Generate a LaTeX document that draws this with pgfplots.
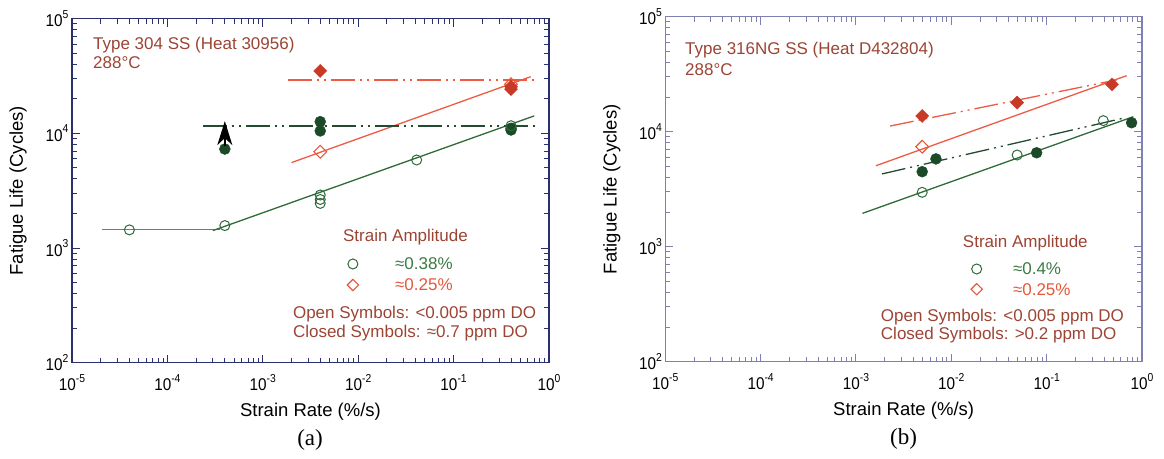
\documentclass[border=0pt]{standalone}
\usepackage{fontspec}
\setmainfont{Liberation Sans}
\newfontfamily\seriffont{Liberation Serif}
\usepackage{graphicx}
\usepackage{pgfplots}
\pgfplotsset{compat=1.18}
\usetikzlibrary{arrows.meta}

\definecolor{axa}{HTML}{2A2F6E}
\definecolor{axb}{HTML}{7E80B4}
\definecolor{txt}{HTML}{9C4434}
\definecolor{gline}{HTML}{2F6A3A}
\definecolor{gfill}{HTML}{1B4A28}
\definecolor{gdash}{HTML}{244A30}
\definecolor{rline}{HTML}{EE5A44}
\definecolor{rfill}{HTML}{C93A26}
\definecolor{ropen}{HTML}{E5583A}
\definecolor{tealc}{HTML}{4F8A7E}
\definecolor{gtxt}{HTML}{3C7A44}

\newcommand{\tl}[1]{\scalebox{0.9}[1]{10\raisebox{0.5em}{\fontsize{11.5bp}{12bp}\selectfont #1}}}
\newcommand{\ann}{\fontsize{17bp}{20bp}\selectfont}

\pgfplotsset{
  myddash/.style={line width=1.3bp, dash pattern=on 24bp off 5bp on 2bp off 5bp on 2bp off 5bp},
  myoc/.style={only marks, mark=o, mark size=5bp, mark options={draw=gline, line width=1bp}},
  myfc/.style={only marks, mark=*, mark size=5.5bp, mark options={draw=gfill, fill=gfill}},
  myod/.style={only marks, mark=square, mark size=4.5bp, mark options={draw=ropen, line width=1.1bp, rotate=45}},
  myfd/.style={only marks, mark=square*, mark size=4.6bp, mark options={draw=rfill, fill=rfill, rotate=45}},
}

\begin{document}
\begin{tikzpicture}
\useasboundingbox (0,0) rectangle (1164bp,459bp);

% ---------------- Panel (a)
\begin{axis}[xmode=log, ymode=log, clip mode=individual,
    scale only axis, width=477bp, height=344bp,
    at={(72bp,96.3bp)}, anchor=south west,
    xmin=1e-5, xmax=1, ymin=100, ymax=1e5,
    xtick={1e-5,1e-4,1e-3,1e-2,1e-1,1},
    ytick={1e2,1e3,1e4,1e5},
    xticklabels={\tl{-5},\tl{-4},\tl{-3},\tl{-2},\tl{-1},\tl{0}},
    yticklabels={\tl{2},\tl{3},\tl{4},\tl{5}},
    ticklabel style={font=\fontsize{17bp}{20bp}\selectfont},
    xticklabel style={yshift=-8bp},
    major tick length=8bp, minor tick length=5bp,
    tick align=inside,
    xlabel={Strain Rate (\%/s)},
    ylabel={Fatigue Life (Cycles)},
    xlabel style={at={(axis description cs:0.5,-0.143)}, anchor=center, font=\fontsize{18.5bp}{20bp}\selectfont},
    ylabel style={at={(axis description cs:-0.113,0.5)}, anchor=center, font=\fontsize{18.5bp}{20bp}\selectfont},
    axis line style={axa, line width=1.6bp}, every tick/.style={axa, line width=1bp}]
\addplot[tealc, line width=1.2bp] coordinates {(2.05e-5,1450) (3.6e-4,1450)};
\addplot[gline, line width=1.3bp] coordinates {(3e-4,1420) (0.7,14200)};
\addplot[rline, line width=1.3bp] coordinates {(2.0e-3,5560) (0.643,31200)};
\addplot[rline, myddash] coordinates {(1.85e-3,29200) (0.74,29200)};
\addplot[gdash, myddash] coordinates {(2.38e-4,11590) (0.71,11590)};
\addplot[myfc] coordinates {(4e-4,7300) (4e-3,12650) (4e-3,10500) (0.40,11070) (0.40,10700)};
\addplot[black, line width=1.8bp, -{Stealth[length=24bp,width=15bp,inset=7bp]}] coordinates {(4e-4,7700) (4e-4,12800)};
\addplot[myoc] coordinates {(4e-5,1440) (4e-4,1570) (4e-3,2900) (4e-3,2650) (4e-3,2450) (0.041,5860) (0.40,11660)};
\addplot[myod] coordinates {(4e-3,6920) (0.40,26800)};
\addplot[myfd] coordinates {(4e-3,35000) (0.40,25500) (0.40,24300)};
% legend symbols
\addplot[myoc] coordinates {(8.8e-3,726)};
\addplot[myod, mark size=4bp] coordinates {(8.8e-3,476)};
\node[anchor=west, inner sep=0, txt] at (axis description cs:0.044,0.9235) {\ann Type 304 SS (Heat 30956)};
\node[anchor=west, inner sep=0, txt] at (axis description cs:0.044,0.871) {\ann 288°C};
\node[anchor=west, inner sep=0, txt] at (axis description cs:0.568,0.365) {\ann Strain Amplitude};
\node[anchor=west, inner sep=0, gtxt] at (axis description cs:0.677,0.287) {\ann ≈0.38\%};
\node[anchor=west, inner sep=0, ropen] at (axis description cs:0.677,0.226) {\ann ≈0.25\%};
\node[anchor=west, inner sep=0, txt] at (axis description cs:0.463,0.1416) {\ann Open Symbols: <0.005 ppm DO};
\node[anchor=west, inner sep=0, txt] at (axis description cs:0.463,0.0863) {\ann Closed Symbols: ≈0.7 ppm DO};
\node[anchor=center] at (axis description cs:0.499,-0.225) {\seriffont\fontsize{23bp}{26bp}\selectfont (a)};
\end{axis}

% ---------------- Panel (b)
\begin{axis}[xmode=log, ymode=log, clip mode=individual,
    scale only axis, width=476.7bp, height=345bp,
    at={(665.3bp,97.3bp)}, anchor=south west,
    xmin=1e-5, xmax=1, ymin=100, ymax=1e5,
    xtick={1e-5,1e-4,1e-3,1e-2,1e-1,1},
    ytick={1e2,1e3,1e4,1e5},
    xticklabels={\tl{-5},\tl{-4},\tl{-3},\tl{-2},\tl{-1},\tl{0}},
    yticklabels={\tl{2},\tl{3},\tl{4},\tl{5}},
    ticklabel style={font=\fontsize{17bp}{20bp}\selectfont},
    xticklabel style={yshift=-8bp},
    major tick length=8bp, minor tick length=5bp,
    tick align=inside,
    xlabel={Strain Rate (\%/s)},
    ylabel={Fatigue Life (Cycles)},
    xlabel style={at={(axis description cs:0.5,-0.143)}, anchor=center, font=\fontsize{18.5bp}{20bp}\selectfont},
    ylabel style={at={(axis description cs:-0.112,0.5)}, anchor=center, font=\fontsize{18.5bp}{20bp}\selectfont},
    axis line style={axb, line width=1.3bp}, every tick/.style={axb, line width=1bp}]
\addplot[gline, line width=1.3bp] coordinates {(1.17e-3,1950) (0.81,13500)};
\addplot[rline, line width=1.3bp] coordinates {(1.62e-3,5060) (0.69,30700)};
\addplot[gdash, myddash] coordinates {(1.87e-3,4290) (0.635,13100)};
\addplot[rline, myddash] coordinates {(2.28e-3,11200) (0.542,28200)};
\addplot[myoc] coordinates {(4.95e-3,2970) (0.049,6270) (0.393,12480)};
\addplot[myfc] coordinates {(4.95e-3,4490) (6.9e-3,5800) (0.0785,6560) (0.778,11970)};
\addplot[myod] coordinates {(4.95e-3,7410)};
\addplot[myfd] coordinates {(4.95e-3,13700) (0.049,17900) (0.484,25800)};
% legend symbols
\addplot[myoc] coordinates {(0.01845,640)};
\addplot[myod, mark size=4bp] coordinates {(0.01845,427)};
\node[anchor=west, inner sep=0, txt] at (axis description cs:0.0413,0.9035) {\ann Type 316NG SS (Heat D432804)};
\node[anchor=west, inner sep=0, txt] at (axis description cs:0.0413,0.8455) {\ann 288°C};
\node[anchor=west, inner sep=0, txt] at (axis description cs:0.624,0.344) {\ann Strain Amplitude};
\node[anchor=west, inner sep=0, gtxt] at (axis description cs:0.729,0.2687) {\ann ≈0.4\%};
\node[anchor=west, inner sep=0, ropen] at (axis description cs:0.729,0.21) {\ann ≈0.25\%};
\node[anchor=west, inner sep=0, txt] at (axis description cs:0.452,0.130) {\ann Open Symbols: <0.005 ppm DO};
\node[anchor=west, inner sep=0, txt] at (axis description cs:0.452,0.0774) {\ann Closed Symbols: >0.2 ppm DO};
\node[anchor=center] at (axis description cs:0.50,-0.225) {\seriffont\fontsize{23bp}{26bp}\selectfont (b)};
\end{axis}
\end{tikzpicture}
\end{document}
